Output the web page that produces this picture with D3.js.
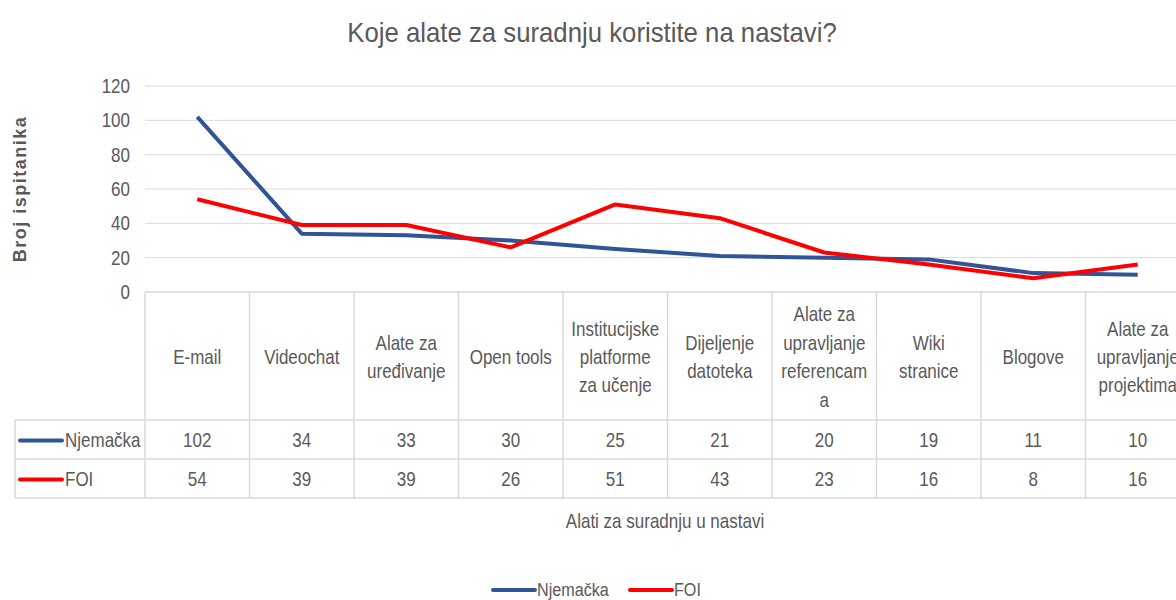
<!DOCTYPE html>
<html>
<head>
<meta charset="utf-8">
<script src="https://cdn.jsdelivr.net/npm/d3@7.9.0/dist/d3.min.js"></script>
<style>
  body { margin: 0; background: #fff; }
  text { font-family: "Liberation Sans", Arial, sans-serif; fill: #595959; }
</style>
</head>
<body>
<svg width="1176" height="600"></svg>
<script>
// categories (line breaks as Excel wrapped them)
const categories = [
  "E-mail", "Videochat", "Alate za\nuređivanje", "Open tools",
  "Institucijske\nplatforme\nza učenje", "Dijeljenje\ndatoteka",
  "Alate za\nupravljanje\nreferencam\na", "Wiki\nstranice", "Blogove",
  "Alate za\nupravljanje\nprojektima"
];
const njemacka = [102, 34, 33, 30, 25, 21, 20, 19, 11, 10];
const foi = [54, 39, 39, 26, 51, 43, 23, 16, 8, 16];
const yTicks = [0, 20, 40, 60, 80, 100, 120];

const series = [
  { name: "Njemačka", values: njemacka, color: "#2f5597" },
  { name: "FOI", values: foi, color: "#ff0000" }
];

const svg = d3.select("svg");
const plotL = 145, plotR = 1190, plotT = 86, plotB = 292;
const headerH = 128, rowH = 39, keyLeft = 15;
const SX = 0.85; // condensed look of the original font

const x = d3.scaleBand().domain(categories).range([plotL, plotR]);
const y = d3.scaleLinear().domain([0, 120]).range([plotB, plotT]);

// narrow text: text drawn inside a horizontally squeezed group
function label(px, py, str, size, anchor, sx = SX, lineH = 0) {
  const g = svg.append("g").attr("transform", `translate(${px},${py}) scale(${sx},1)`);
  const t = g.append("text").attr("text-anchor", anchor || "start").style("font-size", size + "px");
  String(str).split("\n").forEach((l, i) => {
    t.append("tspan").attr("x", 0).attr("y", i * lineH).text(l);
  });
  return t;
}

// title
label(592, 42, "Koje alate za suradnju koristite na nastavi?", 28, "middle", 0.92);

// gridlines
svg.append("g").selectAll("line")
  .data(yTicks.filter(d => d > 0))
  .join("line")
  .attr("x1", plotL).attr("x2", 1176)
  .attr("y1", d => y(d)).attr("y2", d => y(d))
  .attr("stroke", "#d9d9d9").attr("stroke-width", 1);

// y axis labels
yTicks.forEach(v => label(plotL - 15, y(v) + 7, v, 20, "end"));

// y axis title
svg.append("text")
  .attr("transform", `translate(26,${(plotT + plotB) / 2}) rotate(-90)`)
  .attr("text-anchor", "middle")
  .style("font-size", "18px")
  .style("font-weight", "bold")
  .style("letter-spacing", "1.5px")
  .text("Broj ispitanika");

// data table grid
const tbl = svg.append("g").attr("stroke", "#d9d9d9").attr("stroke-width", 1.5);
const tBottom = plotB + headerH + rowH * 2;
tbl.append("line").attr("x1", plotL).attr("x2", 1176).attr("y1", plotB).attr("y2", plotB);
[plotB + headerH, plotB + headerH + rowH, tBottom].forEach(v => {
  tbl.append("line").attr("x1", keyLeft).attr("x2", 1176).attr("y1", v).attr("y2", v);
});
categories.forEach(c => {
  tbl.append("line").attr("x1", x(c)).attr("x2", x(c)).attr("y1", plotB).attr("y2", tBottom);
});
tbl.append("line").attr("x1", keyLeft).attr("x2", keyLeft)
  .attr("y1", plotB + headerH).attr("y2", tBottom);

// header labels
const lineH = 28.5;
categories.forEach(c => {
  const n = c.split("\n").length;
  const cy = plotB + headerH / 2 + 8 - (n - 1) * lineH / 2;
  label(x(c) + x.bandwidth() / 2, cy, c, 20, "middle", SX, lineH);
});

// value rows
series.forEach((s, si) => {
  const rowY = plotB + headerH + rowH * si + rowH / 2 + 7;
  svg.append("line")
    .attr("x1", 20).attr("x2", 62).attr("y1", rowY - 6).attr("y2", rowY - 6)
    .attr("stroke", s.color).attr("stroke-width", 4).attr("stroke-linecap", "round");
  label(65, rowY, s.name, 20, "start");
  s.values.forEach((v, i) => {
    label(x(categories[i]) + x.bandwidth() / 2, rowY, v, 20, "middle");
  });
});

// lines
const line = d3.line()
  .x((d, i) => x(categories[i]) + x.bandwidth() / 2)
  .y(d => y(d));
series.forEach(s => {
  svg.append("path")
    .datum(s.values)
    .attr("d", line)
    .attr("fill", "none")
    .attr("stroke", s.color)
    .attr("stroke-width", 4)
    .attr("stroke-linejoin", "round");
});

// x axis title
label(665, 528, "Alati za suradnju u nastavi", 20, "middle");

// legend
const legendItems = [{ s: series[0], x: 493 }, { s: series[1], x: 630 }];
legendItems.forEach(d => {
  svg.append("line")
    .attr("x1", d.x).attr("x2", d.x + 42).attr("y1", 590).attr("y2", 590)
    .attr("stroke", d.s.color).attr("stroke-width", 4).attr("stroke-linecap", "round");
  label(d.x + 44, 596, d.s.name, 19, "start");
});
</script>
</body>
</html>
